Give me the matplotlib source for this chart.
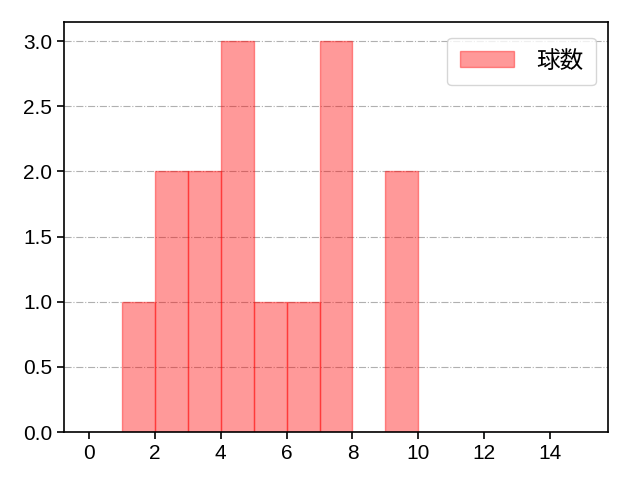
import matplotlib
matplotlib.use("Agg")
import matplotlib.pyplot as plt

plt.rcParams['font.family'] = ['Liberation Sans', 'Noto Sans CJK JP', 'DejaVu Sans']

# 球数ごとの度数 (bin edges 0..15, width 1)
bin_edges = list(range(0, 16))
bin_counts = [0, 1, 2, 2, 3, 1, 1, 3, 0, 2, 0, 0, 0, 0, 0]
label = "球数"

fig, ax = plt.subplots(figsize=(6.4, 4.8), dpi=100)
ax.hist(bin_edges[:-1], bins=bin_edges, weights=bin_counts,
        color='red', alpha=0.4, edgecolor='red', label=label)
ax.grid(axis='y', linestyle='-.', color='#b0b0b0')
ax.set_axisbelow(True)
ax.set_xticks(range(0, 15, 2))
ax.tick_params(labelsize=15, length=5, width=1.2)
for sp in ax.spines.values():
    sp.set_linewidth(1.2)
ax.legend(loc='upper right', bbox_to_anchor=(1.0, 0.99), fontsize=17,
          handlelength=2.25, handletextpad=0.95, borderpad=0.55)
fig.subplots_adjust(left=0.1, right=0.95, bottom=0.1, top=0.955)
plt.savefig('out.png')
